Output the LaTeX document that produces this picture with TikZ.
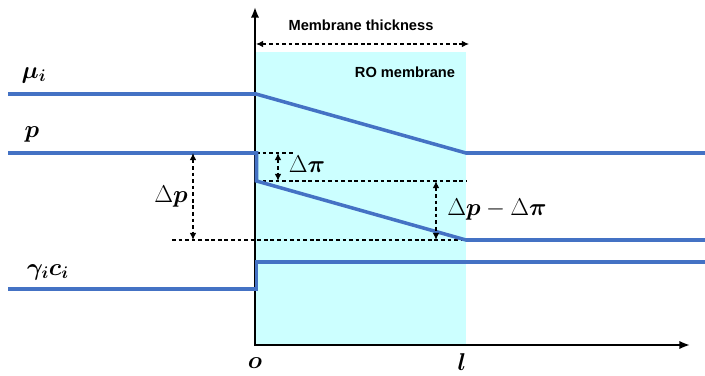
\documentclass[tikz,border=0pt]{standalone}
\usepackage{fontspec}
\setsansfont{Liberation Sans}
\usepackage{amsmath,bm}
\usetikzlibrary{arrows.meta, positioning, calc}
\definecolor{profileBlue}{RGB}{68, 114, 196}
\definecolor{membraneCyan}{RGB}{204, 255, 255}

\begin{document}
\begin{tikzpicture}[
        x=0.03cm, y=-0.03cm,
        profileLine/.style={draw=profileBlue, line width=3pt},
        axisLine/.style={draw=black, line width=1.6pt, {Latex[length=9pt,width=7pt]}-{Latex[length=9pt,width=7pt]}},
        guideLine/.style={draw=black, line width=0.9pt, dash pattern=on 3.2pt off 2.4pt},
        dimArrow/.style={guideLine, {Latex[length=6pt,width=5.5pt]}-{Latex[length=6pt,width=5.5pt]}},
        mathLabel/.style={font=\fontsize{21}{25}\selectfont, inner sep=1pt},
        textLabel/.style={font=\sffamily\bfseries\fontsize{12.5}{15}\selectfont, inner sep=1pt}
    ]
        \useasboundingbox (0,0) rectangle (705,376);

        % membrane and axes
        \coordinate (origin) at (255,345);
        \coordinate (memTop) at (466,52);
        \coordinate (yEnd) at (255,7);
        \coordinate (xEnd) at (690,345);
        \fill[membraneCyan] (origin) rectangle (memTop);
        \draw[axisLine] (yEnd) -- (origin) -- (xEnd);

        \coordinate (thickL) at (256,44);
        \coordinate (thickR) at (469,44);
        \draw[dimArrow] (thickL) -- (thickR);
        \node[textLabel] (thickLbl) at (361,25) {Membrane thickness};
        \node[textLabel] (roLbl) at (405,72) {RO membrane};

        % guide lines
        \coordinate (piTop) at (256,153);
        \coordinate (piTopEnd) at (293,153);
        \coordinate (piBot) at (256,181);
        \coordinate (piBotEnd) at (466,181);
        \coordinate (pBotStart) at (172,240);
        \coordinate (pBotEnd) at (466,240);
        \draw[guideLine] (piTop) -- (piTopEnd);
        \draw[guideLine] (piBot) -- (piBotEnd);
        \draw[guideLine] (pBotStart) -- (pBotEnd);

        % profiles
        \draw[profileLine] (8,94) -- (256,94) -- (466,153) -- (705,153);
        \draw[profileLine] (8,153) -- (256.5,153) -- (256.5,181) -- (466,240) -- (705,240);
        \draw[profileLine] (8,289) -- (256.5,289) -- (256.5,262) -- (705,262);

        % dimension arrows
        \draw[dimArrow] (278,153) -- (278,181);
        \draw[dimArrow] (193,153) -- (193,240);
        \draw[dimArrow] (436,181) -- (436,240);
        \node[mathLabel] (dPiLbl) at (307,164) {$\Delta\bm{\pi}$};
        \node[mathLabel] (dPLbl) at (171,197) {$\Delta\bm{p}$};
        \node[mathLabel] (dDiffLbl) at (497,210) {$\Delta\bm{p}-\Delta\bm{\pi}$};

        % curve labels
        \node[mathLabel] (muLbl) at (34,75) {$\bm{\mu_i}$};
        \node[mathLabel] (pLbl) at (32,134) {$\bm{p}$};
        \node[mathLabel] (gcLbl) at (48,272) {$\bm{\gamma_i c_i}$};
        \node[mathLabel] (oLbl) at (255,363) {$\bm{o}$};
        \node[mathLabel] (lLbl) at (462,362) {$\bm{l}$};
    \end{tikzpicture}
\end{document}
